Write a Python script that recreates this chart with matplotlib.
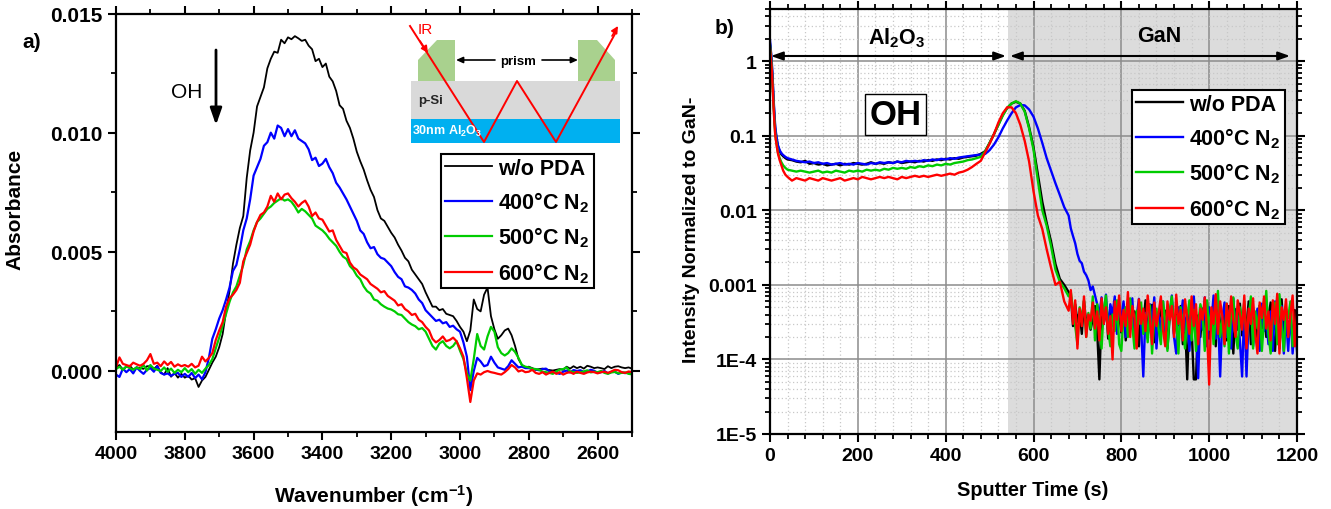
import numpy as np
import matplotlib
matplotlib.use('Agg')
import matplotlib.pyplot as plt
from matplotlib.patches import Polygon, Rectangle
from matplotlib.ticker import FixedLocator, MultipleLocator, NullFormatter

plt.rcParams['font.family'] = ['Liberation Sans', 'DejaVu Sans']
plt.rcParams['font.weight'] = 'bold'
plt.rcParams['mathtext.default'] = 'regular'

W, H = 1331, 510

labels = ['w/o PDA', '400°C N$_2$', '500°C N$_2$', '600°C N$_2$']
colors = ['#000000', '#0000ff', '#00cc00', '#ff0000']

# panel a, absorbance in units of 1e-5, one row per 100 cm-1
wavenumber = np.arange(4000, 2490, -10)
abs_black = [15, 25, 5, 18, 22, 6, 15, 12, 9, 20,
             20, 8, 22, -6, -15, 12, -24, -8, -28, -12,
             -28, -20, -36, -30, -67, -40, -25, 5, 35, 60,
             100, 155, 250, 335, 450, 530, 600, 650, 810, 925,
             1000, 1110, 1150, 1190, 1270, 1310, 1340, 1335, 1390, 1375,
             1400, 1392, 1405, 1396, 1385, 1390, 1365, 1350, 1300, 1310,
             1275, 1290, 1235, 1215, 1175, 1115, 1100, 1050, 1020, 975,
             920, 880, 845, 800, 760, 730, 675, 640, 630, 605,
             580, 560, 530, 505, 475, 460, 425, 405, 385, 365,
             330, 300, 270, 270, 255, 260, 240, 235, 230, 210,
             185, 165, 125, 170, 300, 260, 250, 320, 350, 230,
             175, 135, 150, 170, 178, 150, 105, 50, 25, 15,
             18, 12, 5, 8, 10, 6, 4, 2, 5, 8,
             5, 18, 10, 20, 12, 18, 10, 22, 18, 12,
             15, 12, 8, 20, 12, 18, 20, 15, 12, 15,
             10]
abs_blue = [-15, -25, 10, -5, 8, -10, 15, 0, -12, 5,
            12, -3, 20, -8, -15, -10, -20, -12, -8, -25,
            -12, -25, -8, -30, -15, -35, -5, 55, 135, 175,
            220, 255, 300, 350, 420, 445, 510, 590, 640, 720,
            820, 855, 890, 945, 960, 1000, 975, 1030, 1020, 985,
            1015, 985, 1010, 975, 965, 955, 930, 885, 895, 860,
            870, 890, 855, 830, 790, 770, 745, 720, 690, 660,
            630, 590, 575, 540, 515, 520, 490, 475, 470, 455,
            440, 415, 395, 385, 355, 350, 340, 325, 300, 285,
            255, 240, 225, 210, 215, 200, 205, 185, 190, 175,
            165, 120, 60, -80, 0, 55, 40, 20, 25, 60,
            35, 15, 10, 5, 20, 45, 30, 15, 18, 12,
            12, 8, 6, 3, 8, 10, -2, -5, -8, -12,
            -3, 2, -6, 4, 0, 3, -4, -2, 5, 1,
            -8, -5, 0, -10, -4, -3, -12, -6, -9, -6,
            -10]
abs_green = [8, 18, 5, 20, 12, 5, 15, 8, 25, 2,
             25, 10, 5, 0, 15, -3, 10, -8, 5, -5,
             12, -5, 8, -12, 5, -8, 10, 25, 50, 95,
             140, 190, 240, 290, 330, 355, 400, 445, 510, 545,
             590, 625, 640, 660, 680, 690, 705, 715, 725, 715,
             720, 710, 690, 665, 680, 670, 655, 640, 610, 600,
             590, 575, 555, 540, 525, 500, 480, 470, 440, 425,
             400, 385, 355, 335, 325, 300, 295, 280, 270, 262,
             258, 250, 238, 235, 220, 205, 195, 188, 175, 180,
             165, 135, 105, 90, 115, 125, 105, 95, 105, 125,
             85, 50, -10, -40, 50, 155, 105, 90, 145, 185,
             165, 100, 75, 65, 75, 95, 80, 55, 25, 18,
             15, 10, 8, 5, -3, -5, -8, -12, -2, 6,
             8, 15, -2, -4, -8, -5, -2, 3, -6, -3,
             -5, 0, -8, -12, -6, -4, -10, -8, -6, -12,
             -14]
abs_red = [15, 57, 30, 25, 20, 35, 28, 22, 30, 45,
           71, 30, 35, 20, 40, 25, 38, 18, 28, 20,
           25, 18, 30, 15, 22, 60, 40, 55, 75, 130,
           170, 205, 270, 305, 320, 340, 370, 460, 495, 530,
           585, 625, 655, 665, 690, 735, 710, 745, 720, 740,
           745, 725, 710, 690, 705, 715, 690, 650, 665, 640,
           635, 610, 585, 590, 550, 525, 500, 495, 455, 435,
           425, 405, 395, 385, 365, 355, 345, 330, 335, 315,
           305, 295, 275, 280, 260, 250, 235, 240, 215, 205,
           185, 170, 135, 120, 130, 145, 125, 130, 140, 125,
           95, 60, -30, -130, -40, -10, -15, -5, 0, -5,
           -8, -12, -15, -5, 8, 25, 15, -2, 3, -5,
           -3, 5, -8, -12, -5, -15, -8, -3, -12, -5,
           -15, -8, -5, -12, -3, -8, -12, -6, -3, -5,
           -10, -5, -3, -8, -2, 5, 3, -5, -8, -2,
           -5]

# panel b, up to 680 s: absolute intensity
t_main = [0, 2, 4, 6, 8, 10, 12, 15, 18, 22, 26, 30, 35, 40] + list(range(50, 690, 10))
int_black = [1.7, 1.3, .9, .55, .3, .18, .12, .09, .072, .062, .056, .053, .05, .048,
             .047, .045, .044, .046, .042, .043, .041, .042, .040, .041, .042, .040, .042, .041, .043,
             .042, .041, .042, .044, .042, .043, .042, .044, .043, .045, .043, .044, .045, .044, .046,
             .045, .047, .046, .048, .047, .049, .048, .050, .049, .051, .052, .053, .054, .057,
             .062, .08, .105, .14, .19, .235, .27, .285, .27, .215, .13, .07, .03, .013, .0068, .0038,
             .0019, .0012, .001, .0008]
int_blue = [1.9, 1.4, 1.0, .6, .33, .2, .13, .095, .075, .064, .058, .055, .052, .05,
            .048, .046, .045, .044, .045, .043, .044, .042, .043, .041, .042, .043, .041, .042, .041,
            .043, .042, .041, .043, .042, .044, .043, .044, .043, .045, .044, .046, .045, .046, .045,
            .047, .046, .048, .047, .049, .048, .050, .049, .051, .052, .053, .054, .055, .056,
            .057, .064, .076, .095, .125, .16, .2, .24, .258, .255, .225, .18, .125, .08, .05, .034,
            .023, .016, .011, .0085]
int_green = [1.6, 1.2, .8, .48, .27, .16, .105, .078, .06, .05, .044, .04, .037, .035,
             .034, .033, .034, .033, .032, .033, .034, .032, .033, .032, .034, .033, .032, .034, .033,
             .034, .033, .035, .034, .035, .034, .036, .035, .037, .036, .037, .036, .038, .037, .039,
             .038, .04, .039, .041, .04, .042, .041, .043, .044, .045, .047, .048, .05, .052,
             .062, .08, .105, .14, .185, .235, .27, .29, .27, .21, .125, .065, .025, .01, .0062, .0033,
             .0016, .0011, .0009, .0007]
int_red = [1.5, 1.1, .75, .45, .25, .15, .1, .075, .058, .047, .04, .034, .03, .028,
           .025, .027, .026, .025, .027, .026, .025, .027, .026, .025, .026, .027, .025, .026, .027,
           .026, .028, .027, .026, .027, .028, .027, .028, .027, .026, .028, .027, .028, .029, .028,
           .029, .028, .029, .03, .029, .03, .031, .03, .032, .033, .035, .038, .042, .046,
           .06, .078, .105, .15, .2, .24, .24, .2, .14, .085, .045, .018, .0085, .0056, .003, .0017,
           .001, .0011, .0006, .00045]

# panel b, noise floor from 685 s: intensity in units of 1e-5
t_tail = np.arange(685, 1205, 5)
tail_black = [70, 28, 55, 32, 44, 22, 60, 31, 38, 25,
              35, 52, 24, 5.4, 42, 30, 58, 19, 46, 33,
              61, 27, 40, 23, 55, 18, 37, 50, 26, 44,
              33, 15, 49, 28, 62, 21, 38, 54, 17, 41,
              30, 57, 24, 45, 14, 36, 63, 22, 40, 29,
              52, 16, 34, 5.4, 43, 26, 5.4, 5.4, 39, 20,
              48, 27, 58, 19, 36, 44, 15, 60, 30, 24,
              41, 18, 52, 33, 12, 47, 25, 56, 21, 38,
              29, 60, 16, 42, 35, 14, 53, 26, 45, 20,
              37, 58, 23, 13, 49, 31, 64, 19, 40, 27,
              35, 18, 46, 28]
tail_blue = [570, 450, 360, 260, 210, 195, 150, 135, 115, 85,
             95, 72, 55, 40, 68, 30, 74, 25, 55, 40,
             70, 22, 48, 35, 60, 20, 44, 32, 66, 18,
             38, 65, 28, 5.9, 42, 19, 55, 30, 68, 14,
             40, 22, 60, 16, 47, 35, 72, 20, 12, 50,
             34, 62, 24, 45, 13, 38, 70, 28, 5.6, 44,
             25, 68, 15, 50, 30, 72, 19, 42, 5.9, 36,
             58, 20, 45, 14, 66, 27, 38, 18, 5.9, 52,
             5.9, 40, 62, 15, 33, 48, 13, 56, 24, 36,
             16, 44, 13, 60, 28, 14, 52, 12, 38, 13,
             46, 12, 30, 13]
tail_green = [80, 45, 28, 16, 50, 35, 62, 20, 42, 26,
              70, 18, 55, 32, 14, 48, 72, 25, 15, 40,
              24, 62, 16, 13, 38, 50, 20, 66, 28, 14,
              45, 30, 58, 22, 40, 17, 53, 12, 36, 48,
              25, 16, 60, 33, 13, 44, 70, 24, 38, 12,
              50, 28, 14, 36, 62, 18, 46, 13, 30, 55,
              40, 13, 62, 25, 45, 16, 38, 83, 20, 33,
              15, 56, 12, 42, 68, 22, 14, 50, 30, 60,
              17, 34, 70, 14, 44, 26, 52, 13, 35, 83,
              22, 12, 40, 58, 16, 75, 28, 13, 48, 36,
              60, 15, 30, 18]
tail_red = [85, 30, 62, 14, 48, 28, 70, 20, 40, 33,
            58, 26, 44, 18, 66, 30, 50, 22, 38, 10,
            60, 34, 72, 24, 46, 28, 80, 20, 52, 36,
            14, 64, 30, 48, 24, 72, 36, 16, 58, 28,
            42, 70, 25, 15, 60, 34, 52, 20, 74, 30,
            46, 18, 64, 36, 22, 70, 28, 55, 16, 48,
            34, 68, 24, 4.6, 50, 30, 75, 22, 60, 38,
            16, 56, 28, 70, 34, 20, 62, 40, 25, 72,
            14, 48, 30, 66, 22, 12, 58, 36, 70, 26,
            44, 18, 62, 30, 76, 12, 50, 34, 64, 20,
            40, 72, 15, 46]

def axes_px(x0, x1, y0, y1):
    return fig.add_axes([x0 / W, 1 - y1 / H, (x1 - x0) / W, (y1 - y0) / H])

def frame(ax):
    for s in ax.spines.values():
        s.set_linewidth(1.6)
    ax.tick_params(which='major', length=6, width=1.5, top=True, right=True)
    ax.tick_params(which='minor', length=3.5, width=1.3, top=True, right=True)

def legend_px(ax, x0, y0):
    leg = ax.legend(loc='upper left', bbox_to_anchor=(x0 / W, 1 - y0 / H), bbox_transform=fig.transFigure,
                    fontsize=15.5, handlelength=2.2, handletextpad=0.3, labelspacing=0.5, borderpad=0.17,
                    borderaxespad=0, fancybox=False, framealpha=1, edgecolor='black')
    leg.get_frame().set_linewidth(1.5)
    leg.set_zorder(10)

fig = plt.figure(figsize=(W / 100, H / 100), dpi=100)

# a)
ax1 = axes_px(116, 632, 14.5, 433)
for y, c, l, lw in zip([abs_black, abs_blue, abs_green, abs_red], colors, labels, [1.3, 1.6, 1.6, 1.6]):
    ax1.plot(wavenumber, np.array(y) * 1e-5, color=c, lw=lw, label=l)
ax1.set_xlim(4000, 2500)
ax1.set_ylim(-0.00256, 0.015)
ax1.xaxis.set_major_locator(MultipleLocator(200))
ax1.xaxis.set_minor_locator(MultipleLocator(100))
ax1.yaxis.set_major_locator(FixedLocator([0, 0.005, 0.010, 0.015]))
ax1.yaxis.set_minor_locator(FixedLocator([0.0025, 0.0075, 0.0125]))
ax1.set_yticklabels(['0.000', '0.005', '0.010', '0.015'])
frame(ax1)
ax1.tick_params(axis='y', which='major', labelsize=15)
ax1.tick_params(axis='x', which='major', labelsize=14)
legend_px(ax1, 441, 155)

# b)
ax2 = axes_px(770, 1297, 10, 435)
ax2.axvspan(541, 1200, color='#dcdcdc', lw=0, zorder=0)
for ym, yt, c, l in zip([int_black, int_blue, int_green, int_red],
                        [tail_black, tail_blue, tail_green, tail_red], colors, labels):
    ax2.plot(list(t_main) + list(t_tail), list(ym) + list(np.array(yt) * 1e-5), color=c, lw=1.7, label=l)
ax2.set_yscale('log')
ax2.set_xlim(0, 1200)
ax2.set_ylim(1e-5, 5)
ax2.xaxis.set_major_locator(MultipleLocator(200))
ax2.xaxis.set_minor_locator(MultipleLocator(40))
ax2.yaxis.set_major_locator(FixedLocator([1e-5, 1e-4, 1e-3, 1e-2, 1e-1, 1]))
ax2.yaxis.set_minor_locator(FixedLocator([m * 10.0 ** e for e in range(-5, 1) for m in range(2, 10)]))
ax2.yaxis.set_minor_formatter(NullFormatter())
ax2.set_yticklabels(['1E-5', '1E-4', '0.001', '0.01', '0.1', '1'])
ax2.grid(True, which='major', color='#8c8c8c', lw=1.1)
ax2.grid(True, which='minor', color='#c8c8c8', lw=0.9, ls=(0, (1, 2)))
ax2.set_axisbelow(True)
frame(ax2)
ax2.tick_params(which='major', labelsize=14)
legend_px(ax2, 1132, 91)

# overlay in pixels for labels, arrows and the prism sketch
ov = fig.add_axes([0, 0, 1, 1], zorder=20)
ov.set_xlim(0, W)
ov.set_ylim(H, 0)
ov.axis('off')

ov.text(15, 209, 'Absorbance', rotation=90, ha='center', va='center', fontsize=15)
ov.text(374, 496, 'Wavenumber (cm$^{-1}$)', ha='center', va='center', fontsize=15)
ov.text(692, 230, 'Intensity Normalized to GaN-', rotation=90, ha='center', va='center', fontsize=14)
ov.text(1033, 491, 'Sputter Time (s)', ha='center', va='center', fontsize=14.3)
ov.text(32, 42, 'a)', ha='center', va='center', fontsize=15)
ov.text(725, 29, 'b)', ha='center', va='center', fontsize=15)
ov.text(187, 92, 'OH', ha='center', va='center', fontsize=15, fontweight='normal')
ov.annotate('', xy=(216, 126), xytext=(216, 51),
            arrowprops=dict(arrowstyle='-|>,head_width=0.35,head_length=1.0', color='black', lw=2, shrinkA=0, shrinkB=0))

ov.text(897, 38, 'Al$_2$O$_3$', ha='center', va='center', fontsize=15.5)
ov.text(1159, 36, 'GaN', ha='center', va='center', fontsize=15.5)
for x0, x1 in [(771, 1006), (1010, 1290)]:
    ov.annotate('', xy=(x1, 57), xytext=(x0, 57),
                arrowprops=dict(arrowstyle='<|-|>,head_width=0.25,head_length=0.7', color='black', lw=1.5, shrinkA=0, shrinkB=0))
ov.text(895.5, 115.5, 'OH', ha='center', va='center', fontsize=25,
        bbox=dict(boxstyle='square,pad=0.12', fc='white', ec='black', lw=1))

# prism sketch
ov.add_patch(Rectangle((411, 82), 209, 38, fc='#d9d9d9', ec='none'))
ov.add_patch(Rectangle((411, 120), 209, 24, fc='#00b0f0', ec='none'))
ov.add_patch(Polygon([(418, 82), (418, 61), (437, 41), (455, 41), (455, 82)], fc='#a9d18e', ec='none'))
ov.add_patch(Polygon([(578, 82), (578, 41), (597, 41), (615, 61), (615, 82)], fc='#a9d18e', ec='none'))
ov.plot([410, 484, 517, 556, 616], [27, 143, 82, 143, 33], color='#ff0000', lw=1.4)
ov.annotate('', xy=(618, 27), xytext=(612, 37),
            arrowprops=dict(arrowstyle='-|>,head_width=0.2,head_length=0.4', color='#ff0000', lw=1.2, shrinkA=0, shrinkB=0))
ov.annotate('', xy=(428, 54), xytext=(420, 42),
            arrowprops=dict(arrowstyle='-|>,head_width=0.2,head_length=0.4', color='#ff0000', lw=1.2, shrinkA=0, shrinkB=0))
ov.text(425, 30, 'IR', color='#ff0000', ha='center', va='center', fontsize=11, fontweight='normal')
ov.text(518, 62, 'prism', ha='center', va='center', fontsize=9.5)
for x0, x1 in [(495, 456), (542, 578)]:
    ov.annotate('', xy=(x1, 61), xytext=(x0, 61),
                arrowprops=dict(arrowstyle='-|>,head_width=0.18,head_length=0.4', color='black', lw=1.2, shrinkA=0, shrinkB=0))
ov.text(431, 101, 'p-Si', ha='center', va='center', fontsize=9.5, color='#262626')
ov.text(412, 131, '30nm Al$_2$O$_3$', ha='left', va='center', fontsize=9, color='white')

fig.savefig('out.png', dpi=100)
plt.close()
